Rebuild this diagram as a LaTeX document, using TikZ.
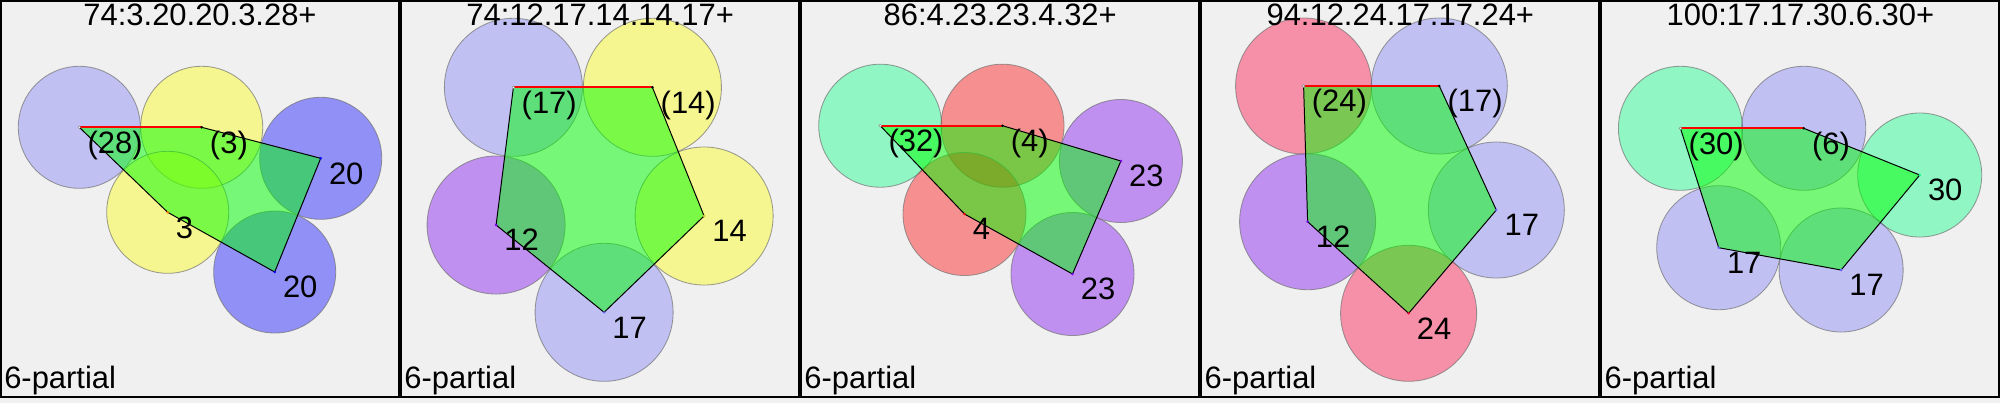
\documentclass[tikz,border=0pt]{standalone}
\usepackage{fontspec}
\setmainfont{Liberation Sans}
\usepackage{xcolor}
\definecolor{panelbg}{HTML}{F0F0F0}
\definecolor{discLav}{RGB}{0,0,255}
\definecolor{discBlue}{RGB}{0,0,255}
\definecolor{discYellow}{RGB}{255,255,0}
\definecolor{discPurple}{RGB}{120,0,240}
\definecolor{discRed}{RGB}{255,0,0}
\definecolor{discMint}{RGB}{0,255,128}
\definecolor{discPink}{RGB}{255,0,60}
\definecolor{tileGreen}{RGB}{0,255,0}
\usetikzlibrary{calc}
\newcommand{\lbfont}{\fontsize{22}{26}\selectfont}
\tikzset{
  disc/.style={draw=black!55, draw opacity=.7, line width=0.6pt},
  lavdisc/.style={disc, fill=discLav, fill opacity=.2},
  bluedisc/.style={disc, fill=discBlue, fill opacity=.4},
  yellowdisc/.style={disc, fill=discYellow, fill opacity=.4},
  purpledisc/.style={disc, fill=discPurple, fill opacity=.4},
  reddisc/.style={disc, fill=discRed, fill opacity=.4},
  mintdisc/.style={disc, fill=discMint, fill opacity=.4},
  pinkdisc/.style={disc, fill=discPink, fill opacity=.4},
  tile/.style={fill=tileGreen, fill opacity=.5},
  rim/.style={draw=black, line width=0.7pt, line join=round},
  redrim/.style={draw=red, line width=1.3pt},
  lbl/.style={font=\lbfont, anchor=base west, inner sep=0pt, xshift=5.7pt, yshift=-18.4pt},
  heading/.style={font=\lbfont, anchor=base, inner sep=0pt},
  tag/.style={font=\lbfont, anchor=base west, inner sep=0pt},
  frame/.style={draw=black, line width=1.4pt}
}

\begin{document}
\begin{tikzpicture}[x=0.025cm, y=-0.025cm]
  \useasboundingbox (0,0) rectangle (2000,403);
  \fill[panelbg] (0,0) rectangle (2000,403);

  % Panel 1: 74:3.20.20.3.28+
  \begin{scope}[xshift=0cm]
    \coordinate (A1) at (79.3,127.3);
    \coordinate (B1) at (201.7,127.3);
    \coordinate (C1) at (320.7,158.3);
    \coordinate (E1) at (274.7,272);
    \coordinate (D1) at (167.7,212.3);
    \draw[lavdisc] (A1) circle (1.525cm);
    \draw[yellowdisc] (B1) circle (1.525cm);
    \draw[bluedisc] (C1) circle (1.525cm);
    \draw[yellowdisc] (D1) circle (1.525cm);
    \draw[bluedisc] (E1) circle (1.525cm);
    \fill[tile] (A1) -- (B1) -- (C1) -- (E1) -- (D1) -- cycle;
    \draw[rim] (B1) -- (C1) -- (E1) -- (D1) -- (A1);
    \draw[redrim] (A1) -- (B1);
    \fill[white, draw=gray, line width=0.3pt] (A1) circle (1pt);
    \fill[black] (B1) circle (1pt);
    \fill[blue] (C1) circle (1pt);
    \fill[blue] (E1) circle (1pt);
    \fill[orange] (D1) circle (1pt);
    \node[lbl] (lA1) at (A1) {(28)};
    \node[lbl] (lB1) at (B1) {(3)};
    \node[lbl] (lC1) at (C1) {20};
    \node[lbl] (lE1) at (E1) {20};
    \node[lbl] (lD1) at (D1) {3};
    \node[heading] (t1) at (200,25) {74:3.20.20.3.28+};
    \node[tag] (k1) at (4,388) {6-partial};
    \draw[frame] (1,1) rectangle (399,397);
  \end{scope}

  % Panel 2: 74:12.17.14.14.17+
  \begin{scope}[xshift=10cm]
    \coordinate (A2) at (113.3,87.3);
    \coordinate (B2) at (252.3,87.3);
    \coordinate (C2) at (304,216);
    \coordinate (E2) at (204,312.3);
    \coordinate (D2) at (96,225);
    \draw[lavdisc] (A2) circle (1.725cm);
    \draw[yellowdisc] (B2) circle (1.725cm);
    \draw[yellowdisc] (C2) circle (1.725cm);
    \draw[purpledisc] (D2) circle (1.725cm);
    \draw[lavdisc] (E2) circle (1.725cm);
    \fill[tile] (A2) -- (B2) -- (C2) -- (E2) -- (D2) -- cycle;
    \draw[rim] (B2) -- (C2) -- (E2) -- (D2) -- (A2);
    \draw[redrim] (A2) -- (B2);
    \fill[white, draw=gray, line width=0.3pt] (A2) circle (1pt);
    \fill[black] (B2) circle (1pt);
    \fill[yellow!80!black] (C2) circle (1pt);
    \fill[blue!60] (E2) circle (1pt);
    \fill[discPurple] (D2) circle (1pt);
    \node[lbl] (lA2) at (A2) {(17)};
    \node[lbl] (lB2) at (B2) {(14)};
    \node[lbl] (lC2) at (C2) {14};
    \node[lbl] (lE2) at (E2) {17};
    \node[lbl] (lD2) at (D2) {12};
    \node[heading] (t2) at (200,25) {74:12.17.14.14.17+};
    \node[tag] (k2) at (4,388) {6-partial};
    \draw[frame] (1,1) rectangle (399,397);
  \end{scope}

  % Panel 3: 86:4.23.23.4.32+
  \begin{scope}[xshift=20cm]
    \coordinate (A3) at (80,125.7);
    \coordinate (B3) at (202.3,125.7);
    \coordinate (C3) at (320.7,161);
    \coordinate (E3) at (272.3,274);
    \coordinate (D3) at (164.3,214);
    \draw[mintdisc] (A3) circle (1.5375cm);
    \draw[reddisc] (B3) circle (1.5375cm);
    \draw[purpledisc] (C3) circle (1.5375cm);
    \draw[reddisc] (D3) circle (1.5375cm);
    \draw[purpledisc] (E3) circle (1.5375cm);
    \fill[tile] (A3) -- (B3) -- (C3) -- (E3) -- (D3) -- cycle;
    \draw[rim] (B3) -- (C3) -- (E3) -- (D3) -- (A3);
    \draw[redrim] (A3) -- (B3);
    \fill[white, draw=gray, line width=0.3pt] (A3) circle (1pt);
    \fill[black] (B3) circle (1pt);
    \fill[discPurple] (C3) circle (1pt);
    \fill[discPurple] (E3) circle (1pt);
    \fill[red] (D3) circle (1pt);
    \node[lbl] (lA3) at (A3) {(32)};
    \node[lbl] (lB3) at (B3) {(4)};
    \node[lbl] (lC3) at (C3) {23};
    \node[lbl] (lE3) at (E3) {23};
    \node[lbl] (lD3) at (D3) {4};
    \node[heading] (t3) at (200,25) {86:4.23.23.4.32+};
    \node[tag] (k3) at (4,388) {6-partial};
    \draw[frame] (1,1) rectangle (399,397);
  \end{scope}

  % Panel 4: 94:12.24.17.17.24+
  \begin{scope}[xshift=30cm]
    \coordinate (A4) at (103.3,86);
    \coordinate (B4) at (239,86);
    \coordinate (C4) at (296,210);
    \coordinate (E4) at (208.3,313.3);
    \coordinate (D4) at (107.3,221.7);
    \draw[pinkdisc] (A4) circle (1.7cm);
    \draw[lavdisc] (B4) circle (1.7cm);
    \draw[lavdisc] (C4) circle (1.7cm);
    \draw[purpledisc] (D4) circle (1.7cm);
    \draw[pinkdisc] (E4) circle (1.7cm);
    \fill[tile] (A4) -- (B4) -- (C4) -- (E4) -- (D4) -- cycle;
    \draw[rim] (B4) -- (C4) -- (E4) -- (D4) -- (A4);
    \draw[redrim] (A4) -- (B4);
    \fill[white, draw=gray, line width=0.3pt] (A4) circle (1pt);
    \fill[black] (B4) circle (1pt);
    \fill[blue!60] (C4) circle (1pt);
    \fill[discPink] (E4) circle (1pt);
    \fill[discPurple] (D4) circle (1pt);
    \node[lbl] (lA4) at (A4) {(24)};
    \node[lbl] (lB4) at (B4) {(17)};
    \node[lbl] (lC4) at (C4) {17};
    \node[lbl] (lE4) at (E4) {24};
    \node[lbl] (lD4) at (D4) {12};
    \node[heading] (t4) at (200,25) {94:12.24.17.17.24+};
    \node[tag] (k4) at (4,388) {6-partial};
    \draw[frame] (1,1) rectangle (399,397);
  \end{scope}

  % Panel 5: 100:17.17.30.6.30+
  \begin{scope}[xshift=40cm]
    \coordinate (A5) at (80,128.3);
    \coordinate (B5) at (203.3,128.3);
    \coordinate (C5) at (319.3,175);
    \coordinate (E5) at (240.7,270);
    \coordinate (D5) at (118.3,247.7);
    \draw[mintdisc] (A5) circle (1.55cm);
    \draw[lavdisc] (B5) circle (1.55cm);
    \draw[mintdisc] (C5) circle (1.55cm);
    \draw[lavdisc] (D5) circle (1.55cm);
    \draw[lavdisc] (E5) circle (1.55cm);
    \fill[tile] (A5) -- (B5) -- (C5) -- (E5) -- (D5) -- cycle;
    \draw[rim] (B5) -- (C5) -- (E5) -- (D5) -- (A5);
    \draw[redrim] (A5) -- (B5);
    \fill[white, draw=gray, line width=0.3pt] (A5) circle (1pt);
    \fill[black] (B5) circle (1pt);
    \fill[discMint] (C5) circle (1pt);
    \fill[blue!60] (E5) circle (1pt);
    \fill[blue!60] (D5) circle (1pt);
    \node[lbl] (lA5) at (A5) {(30)};
    \node[lbl] (lB5) at (B5) {(6)};
    \node[lbl] (lC5) at (C5) {30};
    \node[lbl] (lE5) at (E5) {17};
    \node[lbl] (lD5) at (D5) {17};
    \node[heading] (t5) at (200,25) {100:17.17.30.6.30+};
    \node[tag] (k5) at (4,388) {6-partial};
    \draw[frame] (1,1) rectangle (399,397);
  \end{scope}
\end{tikzpicture}
\end{document}
